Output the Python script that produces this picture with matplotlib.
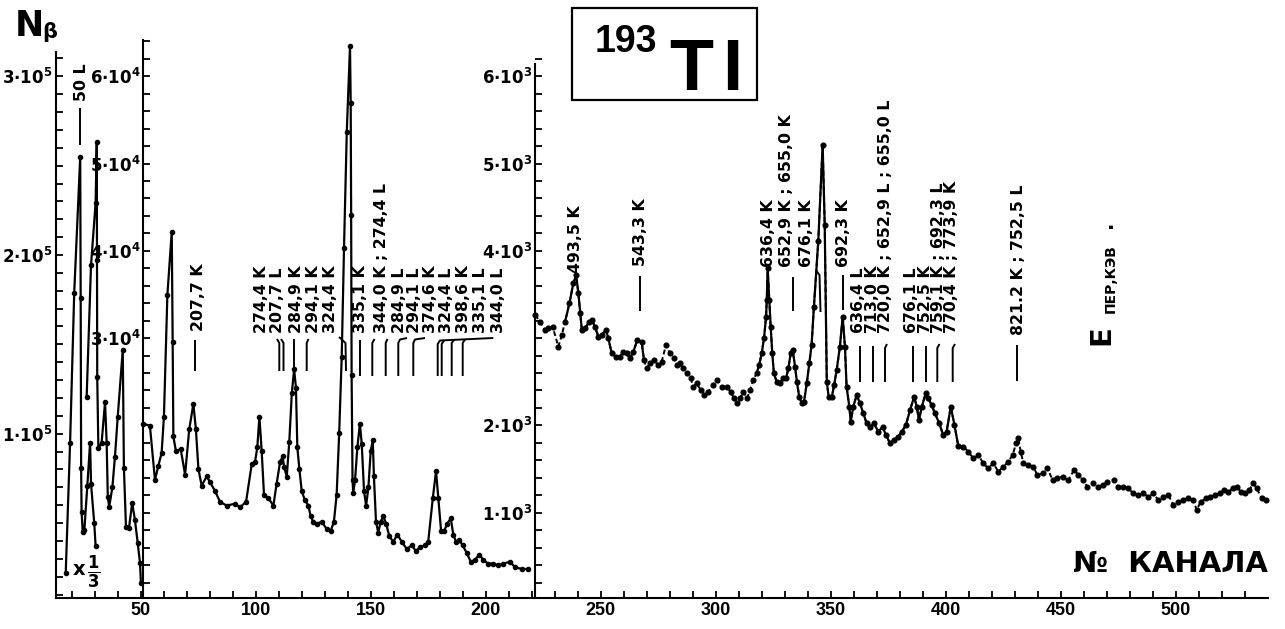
import numpy as np
import matplotlib
matplotlib.use("Agg")
import matplotlib.pyplot as plt
from matplotlib.ticker import FixedLocator, FixedFormatter
from matplotlib.patches import Rectangle

# ------------------------------------------------------------------ data
# segment 1 (left axis, 10^5 scale); curve drawn at x 1/3
seg1a_ch = [17.4, 19.3, 21.1, 23.7, 23.9, 24.1, 24.3, 24.8, 25.5, 26.8, 28.0, 28.4, 29.8, 30.4]
seg1a_val = [22000, 95000, 179000, 255000, 176000, 81000, 56000, 45000, 46000, 71000, 95000,
             72000, 50000, 37000]
# segment 1, second trace
seg1b_ch = [26.5, 28.4, 30.4, 30.9, 31.0, 31.1, 31.6, 33.0, 34.5, 35.2, 35.7, 36.3, 37.7, 38.8,
            40.0, 42.2, 42.7, 43.6, 44.9, 46.3, 47.5, 48.7, 49.7, 50.1]
seg1b_val = [120500, 194400, 229100, 263200, 197100, 131700, 92000, 94800, 117700, 94800, 64600,
             59000, 70200, 87000, 109300, 146800, 80800, 47800, 47200, 61200, 51700, 38800,
             27600, 16400]

# segment 2 (middle axis, 10^4 scale)
seg2_ch = [51.1, 54.0, 56.2, 57.7, 59.1, 60.1, 61.6, 63.5, 63.9, 64.2,
           65.3, 67.4, 69.3, 71.1, 72.9, 74.0, 75.1, 76.5, 78.7, 80.1,
           82.3, 84.5, 87.4, 91.0, 93.2, 95.8, 98.3, 99.7, 100.7, 101.6,
           102.6, 103.6, 105.5, 107.7, 109.1, 110.6, 111.7, 112.4, 113.5, 114.6,
           115.7, 116.7, 117.5, 118.1, 119.0, 120.0, 121.4, 122.9, 123.9, 125.0,
           126.5, 128.7, 130.9, 132.6, 134.0, 135.2, 136.3, 137.4, 138.4, 139.6,
           141.0, 141.3, 141.5, 141.7, 142.1, 142.4, 143.2, 144.2, 145.3, 146.1,
           147.1, 148.0, 149.0, 150.0, 150.9, 151.4, 152.3, 153.3, 154.3, 155.5,
           156.7, 158.1, 159.8, 161.6, 163.5, 165.7, 167.8, 169.7, 171.4, 173.6,
           175.0, 177.0, 178.4, 179.4, 180.6, 181.9, 183.3, 184.8, 185.9, 187.1,
           188.5, 190.0, 191.7, 193.5, 195.3, 197.2, 199.0, 201.1, 203.3, 205.5,
           207.6, 210.6, 212.7, 215.6, 218.5]
seg2_val = [20180, 19980, 13750, 15400, 16850, 21000, 34940, 42200, 29530, 18730,
            17070, 17280, 14360, 19550, 22460, 19550, 14980, 13110, 14150, 13520,
            12490, 11240, 10820, 11030, 10620, 11240, 15600, 15810, 17480, 21010,
            17070, 12070, 11660, 10820, 13320, 15810, 16440, 15190, 14140, 18100,
            23700, 26410, 24340, 17480, 14980, 12490, 11440, 10820, 9580, 8960,
            8750, 8960, 8120, 7910, 8960, 12070, 19140, 27870, 40340, 53650,
            63420, 56980, 44090, 25800, 13750, 12280, 13750, 17480, 20180, 17890,
            12490, 10820, 12890, 17070, 18300, 14150, 8960, 7710, 8960, 9580,
            8750, 7300, 6670, 7500, 6670, 5830, 6250, 5620, 6050, 6250,
            6670, 11660, 14780, 11660, 7910, 7910, 8750, 9370, 7500, 6670,
            6870, 6250, 5420, 4380, 4580, 5210, 4580, 4170, 4170, 3960,
            4170, 4380, 3760, 3550, 3550]

# segment 3 (right axis, 10^3 scale)
seg3_ch = [221.5, 223.6, 225.8, 227.2, 229.1, 231.6, 233.1, 234.5, 236.4, 238.1,
           239.3, 240.3, 241.1, 241.8, 243.2, 245.0, 246.1, 247.5, 249.0, 250.4,
           252.3, 253.3, 254.8, 256.7, 258.4, 259.8, 261.3, 262.7, 264.2, 265.9,
           267.8, 268.8, 270.0, 271.4, 273.2, 275.0, 276.5, 278.4, 280.1, 281.9,
           283.0, 284.5, 285.7, 287.4, 289.1, 290.3, 291.7, 293.5, 294.9, 296.8,
           298.7, 300.7, 302.6, 304.8, 306.5, 308.0, 309.1, 310.6, 312.0, 313.7,
           314.9, 316.3, 317.8, 318.9, 320.0, 321.0, 321.9, 322.2, 322.6, 323.3,
           323.9, 324.6, 325.3, 326.5, 327.9, 329.4, 330.6, 331.6, 332.6, 333.5,
           334.5, 335.3, 336.3, 337.4, 338.4, 339.6, 340.7, 341.7, 342.7, 344.6,
           346.5, 347.4, 348.3, 349.1, 350.5, 351.5, 352.6, 354.0, 355.2, 356.2,
           356.9, 358.1, 358.7, 359.8, 361.3, 362.7, 364.2, 365.6, 367.1, 368.8,
           370.7, 372.6, 374.0, 375.8, 377.5, 379.4, 380.9, 382.7, 384.5, 386.3,
           387.4, 388.4, 389.6, 391.4, 392.4, 393.9, 395.3, 397.2, 398.9, 400.4,
           402.2, 403.8, 405.5, 407.7, 409.8, 412.0, 414.2, 416.3, 418.5, 420.7,
           422.9, 425.0, 427.2, 429.1, 430.6, 431.6, 432.6, 433.8, 435.9, 438.1,
           439.8, 442.2, 444.2, 446.5, 448.5, 450.9, 453.3, 455.8, 457.7, 459.6,
           461.6, 464.0, 466.0, 468.3, 470.3, 473.0, 475.0, 477.2, 479.4, 481.6,
           483.7, 485.9, 488.1, 490.3, 492.4, 494.6, 496.8, 499.0, 501.1, 503.3,
           505.5, 507.7, 509.1, 510.9, 513.2, 514.9, 517.1, 519.3, 521.0, 522.9,
           524.8, 526.5, 528.3, 530.1, 532.0, 533.7, 535.2, 537.4, 539.3]
seg3_val = [3265, 3188, 3093, 3112, 3131, 2902, 3035, 3188, 3398, 3627,
            3723, 3513, 3284, 3093, 3112, 3188, 3207, 3131, 3016, 3035,
            3093, 2998, 2826, 2787, 2787, 2844, 2826, 2768, 2844, 2978,
            2959, 2749, 2654, 2711, 2749, 2692, 2730, 2921, 2826, 2768,
            2692, 2711, 2654, 2597, 2540, 2443, 2482, 2405, 2348, 2386,
            2463, 2520, 2443, 2443, 2386, 2310, 2253, 2310, 2386, 2310,
            2405, 2520, 2597, 2692, 2826, 2998, 3245, 3436, 3800, 3436,
            3131, 2826, 2597, 2501, 2482, 2540, 2540, 2654, 2826, 2864,
            2673, 2501, 2329, 2253, 2272, 2482, 2711, 2921, 3360, 4112,
            5216, 4296, 2501, 2329, 2329, 2463, 2635, 2902, 3245, 2902,
            2443, 2214, 2042, 2214, 2348, 2253, 2139, 2024, 1985, 2024,
            1928, 1985, 1890, 1795, 1833, 1871, 1928, 2005, 2176, 2329,
            2214, 2062, 2214, 2375, 2310, 2234, 2139, 2024, 1890, 1928,
            2214, 2005, 1760, 1756, 1699, 1623, 1661, 1566, 1509, 1566,
            1470, 1527, 1584, 1661, 1795, 1852, 1699, 1566, 1546, 1527,
            1432, 1451, 1509, 1375, 1394, 1413, 1375, 1489, 1432, 1375,
            1298, 1337, 1298, 1318, 1355, 1375, 1298, 1298, 1279, 1222,
            1203, 1222, 1183, 1222, 1145, 1183, 1203, 1088, 1126, 1145,
            1165, 1145, 1031, 1126, 1165, 1183, 1203, 1222, 1260, 1241,
            1279, 1298, 1241, 1222, 1260, 1337, 1279, 1165, 1145]

x_major = [50, 100, 150, 200, 250, 300, 350, 400, 450, 500]
x_major_labels = ["50", "100", "150", "200", "250", "300", "350", "400", "450", "500"]
x_minor = list(range(20, 540, 10))

y1_major = [100000, 200000, 300000]
y1_labels = [r"$1{\cdot}10^5$", r"$2{\cdot}10^5$", r"$3{\cdot}10^5$"]
y2_major = [30000, 40000, 50000, 60000]
y2_labels = [r"$3{\cdot}10^4$", r"$4{\cdot}10^4$", r"$5{\cdot}10^4$", r"$6{\cdot}10^4$"]
y3_major = [1000, 2000, 4000, 5000, 6000]
y3_labels = [r"$1{\cdot}10^3$", r"$2{\cdot}10^3$", r"$4{\cdot}10^3$", r"$5{\cdot}10^3$",
             r"$6{\cdot}10^3$"]

# ------------------------------------------------------------------ layout
W, H = 1285, 629
PX50, PXCH = 140.7, 2.3          # pixel of channel 50, pixels per channel
AXIS_PX = 598                     # pixel row of the channel axis


def ch(px):
    return 50 + (px - PX50) / PXCH


XLIM = (ch(0), ch(W))


def v1(px):
    return 1e5 + (433.7 - px) / 178.7 * 1e5


def v2(px):
    return (600 - px) / 87.3 * 1e4


def v3(px):
    return (600 - px) / 87.3 * 1e3


plt.rcParams['font.family'] = ['DejaVu Sans']
plt.rcParams['font.weight'] = 'bold'
plt.rcParams['mathtext.default'] = 'bf'

fig = plt.figure(figsize=(W / 100, H / 100), dpi=100)
fig.patch.set_facecolor('white')

LW = 1.5
K = 'black'


def seg_axes(vfun, spine_ch, top_px, major, labels, minor, z):
    ax = fig.add_axes([0, 0, 1, 1], zorder=z)
    ax.set_xlim(*XLIM)
    ax.set_ylim(vfun(H), vfun(0))
    ax.patch.set_visible(False)
    for s in ('top', 'right', 'bottom'):
        ax.spines[s].set_visible(False)
    ax.spines['left'].set_position(('data', spine_ch))
    ax.spines['left'].set_bounds(vfun(AXIS_PX), vfun(top_px))
    ax.spines['left'].set_linewidth(LW)
    ax.set_xticks([])
    ax.yaxis.set_major_locator(FixedLocator(major))
    ax.yaxis.set_major_formatter(FixedFormatter(labels))
    ax.yaxis.set_minor_locator(FixedLocator(minor))
    ax.tick_params(axis='y', which='both', direction='in', length=5, width=1.3,
                   pad=2, labelsize=12)
    return ax


ax1 = seg_axes(v1, 13, 52, y1_major, y1_labels,
               list(range(10000, 320000, 10000)), 2)
ax2 = seg_axes(v2, 51, 40, y2_major, y2_labels,
               list(range(2000, 64001, 2000)), 3)
ax3 = seg_axes(v3, 221.5, 64, y3_major, y3_labels,
               list(range(200, 6201, 200)), 4)

# channel axis on ax2
ax2.spines['bottom'].set_visible(True)
ax2.spines['bottom'].set_position(('data', v2(AXIS_PX)))
ax2.spines['bottom'].set_bounds(13, 540)
ax2.spines['bottom'].set_linewidth(LW)
ax2.set_xticks(x_major)
ax2.set_xticklabels(x_major_labels)
ax2.set_xticks(x_minor, minor=True)
ax2.tick_params(axis='x', which='both', direction='in', length=5, width=1.3,
                pad=3, labelsize=13)
for t in ax2.get_xticklabels():
    t.set_family(['Liberation Sans', 'DejaVu Sans'])

# spectra
style = dict(color=K, lw=1.6, marker='o', ms=3, mfc=K, mec=K)
ax1.plot(seg1a_ch, seg1a_val, **style)
ax1.plot(seg1b_ch, seg1b_val, **style)
ax2.plot(seg2_ch, seg2_val, **style)

c3 = np.array(seg3_ch)
y3 = np.array(seg3_val, dtype=float)
noisy = (c3 < 236) | ((c3 >= 268) & (c3 <= 318)) | (c3 >= 404)
keep = ~noisy.copy()
keep[1:] |= ~noisy[:-1]
keep[:-1] |= ~noisy[1:]
ax3.plot(c3, y3, color=K, lw=1.4, ls=(0, (2.5, 1.5)), marker='o', ms=3.4, mfc=K, mec=K)
ax3.plot(c3, np.where(keep, y3, np.nan), color=K, lw=1.6)

# ------------------------------------------------------------------ annotations
ann = fig.add_axes([0, 0, 1, 1], zorder=10)
ann.set_xlim(*XLIM)
ann.set_ylim(H, 0)
ann.axis('off')
ann.patch.set_visible(False)

LBL = 11.3


def vlabel(text, xpx, ybot, size=LBL):
    ann.text(ch(xpx), ybot, text, rotation=90, ha='center', va='bottom',
             fontsize=size, fontweight='bold')


def mline(pts):
    ann.plot([ch(p[0]) for p in pts], [p[1] for p in pts], color=K, lw=1.4,
             solid_capstyle='butt')


# segment 1
vlabel("50 L", 81.7, 101)
mline([(80, 108), (80, 145)])
ann.text(ch(73), 575, "x", fontsize=14, ha='left', va='baseline')
ann.text(ch(87), 572, r"$\frac{1}{3}$", fontsize=17, ha='left', va='center')

# segment 2
vlabel("207,7 K", 198.3, 331)
mline([(195, 340), (195, 371)])
group_a = [("274,4 K", 261.7), ("207,7 L", 277), ("284,9 K", 296), ("294,1 K", 313.3),
           ("324,4 K", 330.7), ("335,1 K", 360), ("344,0 K ; 274,4 L", 381.5),
           ("284,9 L", 399), ("294,1 L", 414), ("374,6 K", 430), ("324,4 L", 446),
           ("398,6 K", 463.3), ("335,1 L", 480.5), ("344,0 L", 498.5)]
for txt, xp in group_a:
    vlabel(txt, xp, 333)
for pts in [
    [(277, 339), (279.3, 343), (279.3, 371)],
    [(281, 339), (283.5, 343), (283.5, 371)],
    [(294, 339), (294, 371)],
    [(308.5, 339), (306.7, 343), (306.7, 371)],
    [(339, 337), (345.5, 343), (346, 371)],
    [(360, 340), (360, 376)],
    [(374.5, 339), (372.3, 343), (372.3, 376)],
    [(387.5, 339), (385.7, 343), (385.7, 376)],
    [(407, 338), (400, 339.5), (398.3, 343), (398.3, 376)],
    [(425, 338), (415, 339.5), (413.3, 343), (413.3, 376)],
    [(437.7, 376), (437.7, 344), (440, 340.5), (493.3, 338)],
    [(441.7, 376), (441.7, 344), (444, 340.5)],
    [(451.7, 376), (451.7, 343), (454, 340)],
    [(462.7, 376), (462.7, 343), (465, 339.5)],
]:
    mline(pts)

# segment 3
vlabel("493,5 K", 575, 273)
vlabel("543,3 K", 640, 266)
mline([(640, 276), (640, 311)])
vlabel("636,4 K", 768.3, 267)
vlabel("652,9 K ; 655,0 K", 786.7, 267)
mline([(793, 277), (793, 311)])
vlabel("676,1 K", 806.7, 267)
mline([(816.5, 271), (819.5, 275), (820.5, 312)])
vlabel("692,3 K", 843.3, 267)
mline([(842.7, 275), (842.7, 310)])
group_b = [("636,4 L", 858.5), ("713,0 K", 872.2), ("720,0 K ; 652,9 L ; 655,0 L", 885.8),
           ("676,1 L", 911.7), ("752,5 K", 925), ("759,1 K ; 692,3 L", 938.3),
           ("770,4 K ; 773,9 K", 951.7)]
for txt, xp in group_b:
    vlabel(txt, xp, 333)
for pts in [
    [(860, 346), (860, 382)],
    [(872.7, 346), (872.7, 382)],
    [(887, 344), (885, 348), (885, 382)],
    [(912.7, 346), (912.7, 382)],
    [(926, 346), (926, 382)],
    [(939.5, 344), (937.3, 348), (937.3, 382)],
    [(955, 344), (952.7, 348), (952.7, 382)],
]:
    mline(pts)
vlabel("821.2 K ; 752,5 L", 1018.3, 335)
mline([(1016.7, 345), (1016.7, 381)])

# energy caption
ann.text(ch(1101.5), 345, "E", rotation=90, ha='center', va='bottom', fontsize=21)
ann.text(ch(1111), 313, "ПЕР,КЭВ", rotation=90, ha='center', va='bottom', fontsize=10)
ann.text(ch(1106), 228, ".", rotation=90, ha='center', va='bottom', fontsize=14)

# axis captions
ann.text(ch(15), 36, "N", ha='left', va='baseline', fontsize=25)
ann.text(ch(42), 38, "β", ha='left', va='baseline', fontsize=15)
ann.text(ch(1268), 572, "№  КАНАЛА", ha='right', va='baseline', fontsize=21)

# nuclide box
ann.add_patch(Rectangle((ch(572), 8), ch(757) - ch(572), 92, fill=False,
                        lw=1.6, ec=K))
ann.text(ch(595), 52, "193", ha='left', va='baseline', fontsize=27,
         family=['Liberation Sans', 'DejaVu Sans'])
ann.text(ch(669), 90, "T", ha='left', va='baseline', fontsize=52,
         family=['Liberation Sans', 'DejaVu Sans'])
ann.text(ch(722), 90, "I", ha='left', va='baseline', fontsize=52,
         family=['Liberation Sans', 'DejaVu Sans'])

fig.savefig("out.png", dpi=100, facecolor='white')
